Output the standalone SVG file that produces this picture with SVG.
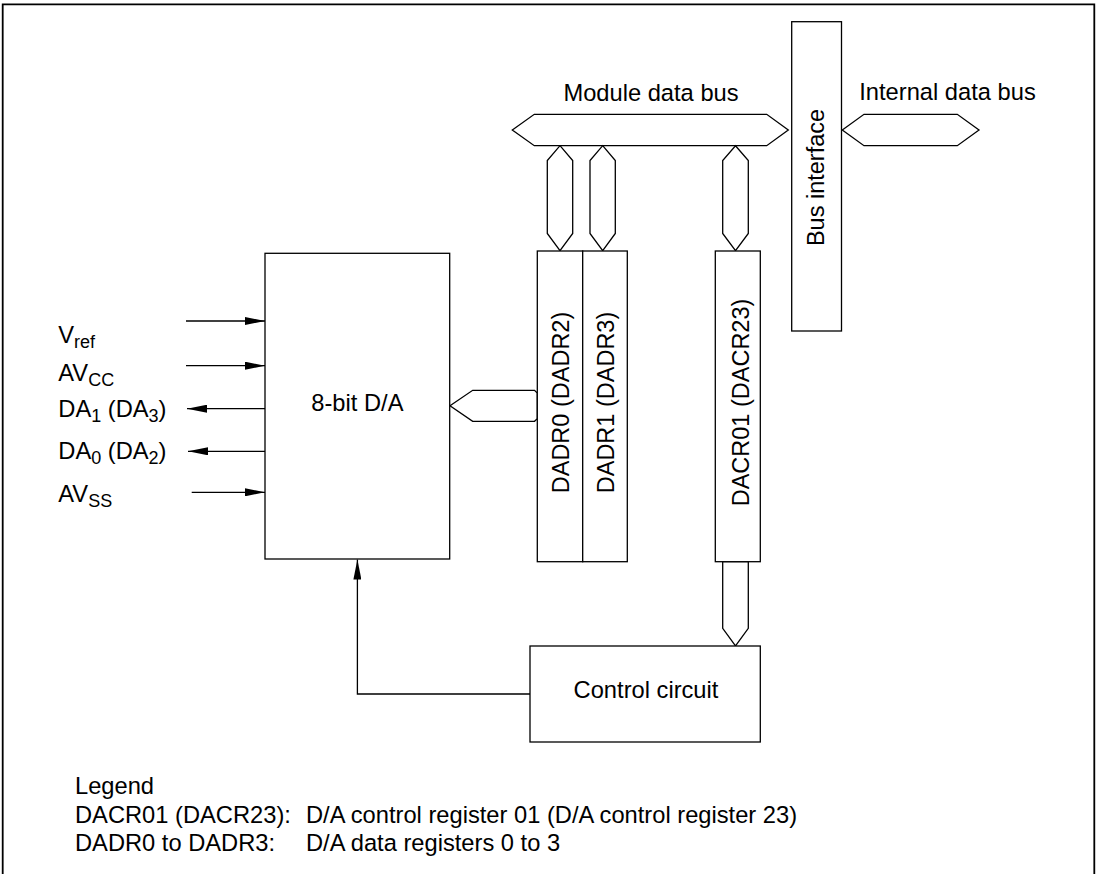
<svg xmlns="http://www.w3.org/2000/svg" width="1097" height="874" viewBox="0 0 1097 874">
<style>
  text { font-family: "Liberation Sans", Arial, sans-serif; font-size: 23.7px; fill: #000; }
  .vt { font-size: 23.5px; }
  .sub { font-size: 18px; }
  .box { fill: #fff; stroke: #000; stroke-width: 1.3; }
  .bus { fill: #fff; stroke: #000; stroke-width: 1.3; stroke-linejoin: miter; }
  .wire { fill: none; stroke: #000; stroke-width: 1.3; }
  .frame { fill: none; stroke: #000; stroke-width: 1.8; }
</style>
<defs>
  <marker id="arr" viewBox="0 0 20 8" refX="20" refY="4" markerWidth="20" markerHeight="8" markerUnits="userSpaceOnUse" orient="auto">
    <path d="M0,0 L20,4 L0,8 z" fill="#000"/>
  </marker>
</defs>
<rect width="1097" height="874" fill="#fff"/>
<path class="frame" d="M2.7,874 V4.3 H1094.3 V874"/>

<g id="connectors">
  <line class="wire" x1="186" y1="321" x2="265" y2="321" marker-end="url(#arr)"/>
  <line class="wire" x1="186" y1="365.7" x2="265" y2="365.7" marker-end="url(#arr)"/>
  <line class="wire" x1="265" y1="408.7" x2="187" y2="408.7" marker-end="url(#arr)"/>
  <line class="wire" x1="265" y1="451.3" x2="188" y2="451.3" marker-end="url(#arr)"/>
  <line class="wire" x1="191.7" y1="492.3" x2="265" y2="492.3" marker-end="url(#arr)"/>
  <polyline class="wire" points="530,694 357.4,694 357.4,559.5" marker-end="url(#arr)"/>
  <polygon class="bus" points="512.3,130 534.3,114.3 766.7,114.3 788.3,130 766.7,145.7 534.3,145.7"/>
  <polygon class="bus" points="842.3,130 864,114.3 957.3,114.3 979,130 957.3,145.7 864,145.7"/>
  <polygon class="bus" points="560,145.7 572.7,160.5 572.7,233.5 560,250.7 547.3,233.5 547.3,160.5"/>
  <polygon class="bus" points="602.7,145.7 615.3,160.5 615.3,233.5 602.7,250.7 590,233.5 590,160.5"/>
  <polygon class="bus" points="735.5,145.7 748.3,160.5 748.3,233.5 735.5,250.7 722.7,233.5 722.7,160.5"/>
  <polygon class="bus" points="722.7,561.7 748.3,561.7 748.3,628.3 735.5,646 722.7,628.3"/>
  <polygon class="bus" points="450,405.7 472.7,390.3 534.5,390.3 537.3,393 537.3,418.6 534.5,421.3 472.7,421.3"/>
</g>

<g id="bus-interface">
  <rect class="box" x="791.7" y="21.7" width="49.8" height="309.3"/>
  <text class="vt" transform="translate(823.5,177.5) rotate(-90)" text-anchor="middle">Bus interface</text>
</g>

<g id="module-data-bus-label">
  <text x="651" y="100.7" text-anchor="middle">Module data bus</text>
</g>
<g id="internal-data-bus-label">
  <text x="947.5" y="100" text-anchor="middle">Internal data bus</text>
</g>

<g id="da-converter">
  <rect class="box" x="265" y="253.3" width="184.7" height="305.7"/>
  <text x="357.4" y="411" text-anchor="middle">8-bit D/A</text>
</g>

<g id="dadr0">
  <rect class="box" x="537.3" y="251" width="45.4" height="310.7"/>
  <text class="vt" transform="translate(569.3,402.5) rotate(-90)" text-anchor="middle">DADR0 (DADR2)</text>
</g>
<g id="dadr1">
  <rect class="box" x="582.7" y="251" width="44.6" height="310.7"/>
  <text class="vt" transform="translate(613.8,402.5) rotate(-90)" text-anchor="middle">DADR1 (DADR3)</text>
</g>
<g id="dacr01">
  <rect class="box" x="715.3" y="251" width="45" height="310.7"/>
  <text class="vt" transform="translate(748.5,402.5) rotate(-90)" text-anchor="middle">DACR01 (DACR23)</text>
</g>

<g id="control-circuit">
  <rect class="box" x="530" y="646" width="230.3" height="96"/>
  <text x="646" y="698.3" text-anchor="middle">Control circuit</text>
</g>

<g id="pin-labels">
  <text x="58.3" y="343.3">V<tspan class="sub" dy="5">ref</tspan></text>
  <text x="58.3" y="380.7">AV<tspan class="sub" dy="5">CC</tspan></text>
  <text x="58.3" y="416.7">DA<tspan class="sub" dy="5">1</tspan><tspan dy="-5"> (DA</tspan><tspan class="sub" dy="5">3</tspan><tspan dy="-5">)</tspan></text>
  <text x="58.3" y="459.3">DA<tspan class="sub" dy="5">0</tspan><tspan dy="-5"> (DA</tspan><tspan class="sub" dy="5">2</tspan><tspan dy="-5">)</tspan></text>
  <text x="58.3" y="501.7">AV<tspan class="sub" dy="5">SS</tspan></text>
</g>

<g id="legend">
  <text x="75" y="794">Legend</text>
  <text x="75" y="822.7">DACR01 (DACR23):</text>
  <text x="306" y="822.7">D/A control register 01 (D/A control register 23)</text>
  <text x="75" y="851">DADR0 to DADR3:</text>
  <text x="306" y="851">D/A data registers 0 to 3</text>
</g>
</svg>
